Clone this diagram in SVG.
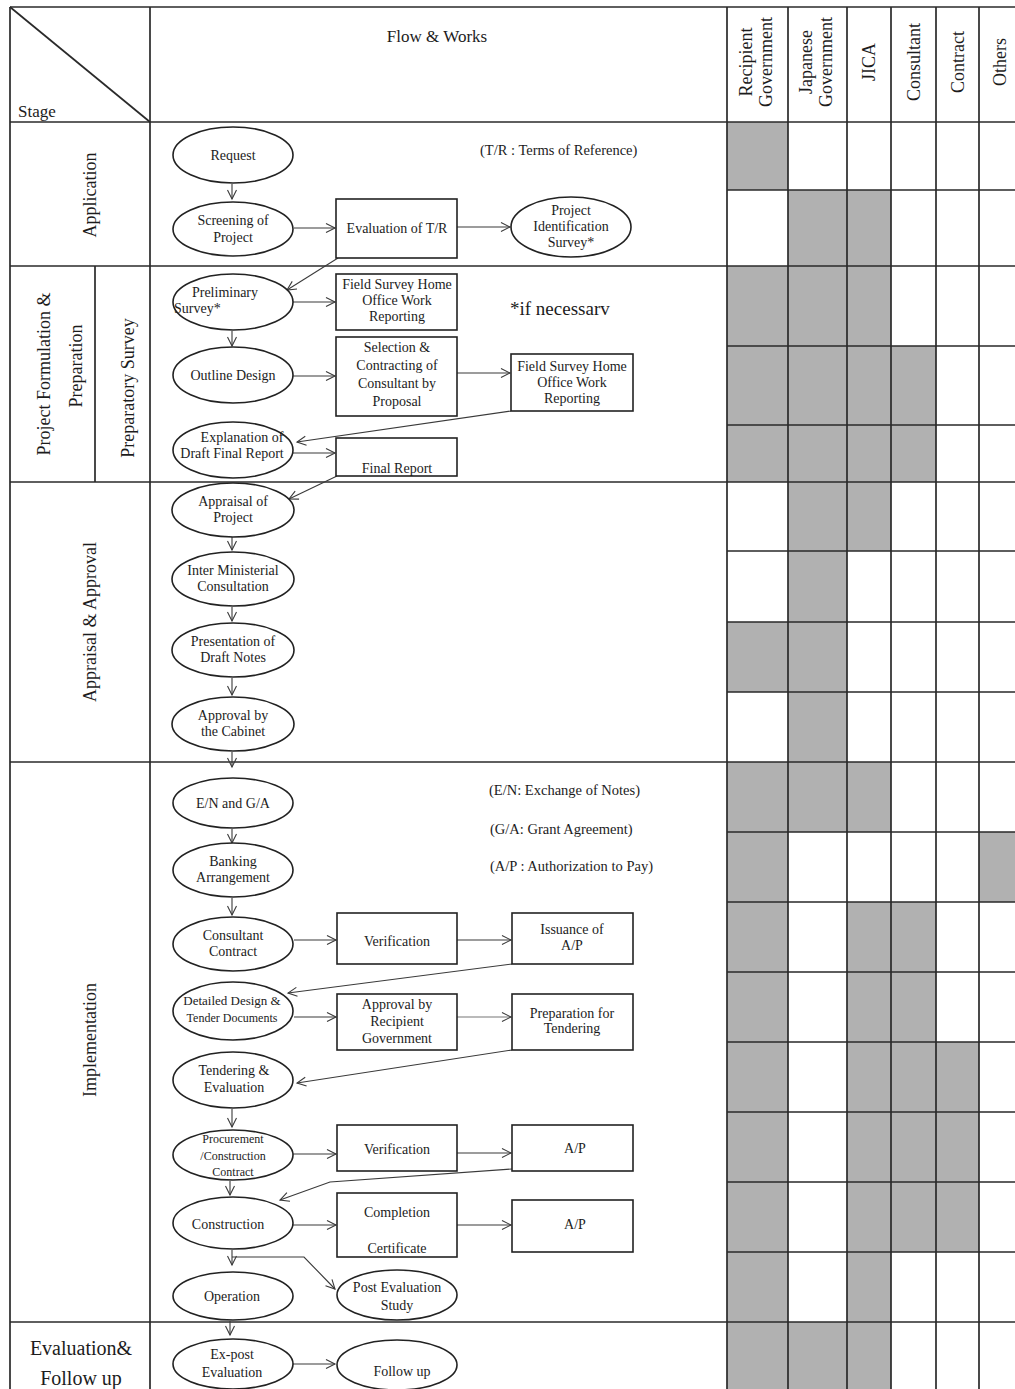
<svg xmlns="http://www.w3.org/2000/svg" width="1015" height="1389" viewBox="0 0 1015 1389">
<defs>
<style>
.bg{fill:#ffffff}
.shade{fill:#b1b1b1}
.tbl{stroke:#2a2a2a;stroke-width:1.7;fill:none}
.node{fill:#ffffff;stroke:#222;stroke-width:1.6}
.conn{stroke:#3a3a3a;stroke-width:1.1;fill:none;marker-end:url(#arr)}
.light{stroke:#777}
text{font-family:"Liberation Serif","Times New Roman",serif;fill:#1c1c1c}
.t{font-size:14px;text-anchor:middle}
.s{font-size:12px;text-anchor:middle}
.hd{font-size:18px;text-anchor:middle}
.st{font-size:18px;text-anchor:middle}
.note{font-size:14.5px}
</style>
<marker id="arr" markerUnits="userSpaceOnUse" markerWidth="12" markerHeight="12" refX="10" refY="5" orient="auto">
<path d="M1,0.5 L10,5 L1,9.5" fill="none" stroke="#3a3a3a" stroke-width="1.1"/>
</marker>
</defs>
<rect class="bg" x="0" y="0" width="1015" height="1389"/>

<g id="matrix-shading">
<rect class="shade" x="727" y="122" width="61" height="68"/>
<rect class="shade" x="788" y="190" width="103" height="76"/>
<rect class="shade" x="727" y="266" width="164" height="80"/>
<rect class="shade" x="727" y="346" width="209" height="136"/>
<rect class="shade" x="788" y="482" width="103" height="69"/>
<rect class="shade" x="788" y="551" width="59" height="71"/>
<rect class="shade" x="727" y="622" width="120" height="70"/>
<rect class="shade" x="788" y="692" width="59" height="70"/>
<rect class="shade" x="727" y="762" width="164" height="70"/>
<rect class="shade" x="727" y="832" width="61" height="70"/>
<rect class="shade" x="979" y="832" width="36" height="70"/>
<rect class="shade" x="727" y="902" width="61" height="420"/>
<rect class="shade" x="847" y="902" width="89" height="140"/>
<rect class="shade" x="847" y="1042" width="132" height="210"/>
<rect class="shade" x="847" y="1252" width="44" height="70"/>
<rect class="shade" x="727" y="1322" width="164" height="67"/>
</g>

<g id="table-grid">
<line class="tbl" x1="10" y1="7" x2="1015" y2="7"/>
<line class="tbl" x1="10" y1="7" x2="10" y2="1389"/>
<line class="tbl" x1="150" y1="7" x2="150" y2="1389"/>
<line class="tbl" x1="727" y1="7" x2="727" y2="1389"/>
<line class="tbl" x1="788" y1="7" x2="788" y2="1389"/>
<line class="tbl" x1="847" y1="7" x2="847" y2="1389"/>
<line class="tbl" x1="891" y1="7" x2="891" y2="1389"/>
<line class="tbl" x1="936" y1="7" x2="936" y2="1389"/>
<line class="tbl" x1="979" y1="7" x2="979" y2="1389"/>
<line class="tbl" x1="95" y1="266" x2="95" y2="482"/>
<line class="tbl" x1="10" y1="7" x2="150" y2="122"/>
<line class="tbl" x1="10" y1="122" x2="1015" y2="122"/>
<line class="tbl" x1="10" y1="266" x2="1015" y2="266"/>
<line class="tbl" x1="10" y1="482" x2="1015" y2="482"/>
<line class="tbl" x1="10" y1="762" x2="1015" y2="762"/>
<line class="tbl" x1="10" y1="1322" x2="1015" y2="1322"/>
<path class="tbl" d="M727,190H1015M727,346H1015M727,425H1015M727,551H1015M727,622H1015M727,692H1015M727,832H1015M727,902H1015M727,972H1015M727,1042H1015M727,1112H1015M727,1182H1015M727,1252H1015"/>
</g>

<g id="headers">
<text x="437" y="42" style="font-size:17px;text-anchor:middle">Flow &amp; Works</text>
<text x="18" y="117" style="font-size:17px">Stage</text>
<text class="hd" transform="translate(752,62) rotate(-90)">Recipient</text>
<text class="hd" transform="translate(772,62) rotate(-90)">Government</text>
<text class="hd" transform="translate(812,62) rotate(-90)">Japanese</text>
<text class="hd" transform="translate(832,62) rotate(-90)">Government</text>
<text class="hd" transform="translate(875,62) rotate(-90)">JICA</text>
<text class="hd" transform="translate(920,62) rotate(-90)">Consultant</text>
<text class="hd" transform="translate(964,62) rotate(-90)">Contract</text>
<text class="hd" transform="translate(1006,62) rotate(-90)">Others</text>
</g>

<g id="stages">
<text class="st" transform="translate(96,195) rotate(-90)">Application</text>
<text class="st" transform="translate(50,374) rotate(-90)">Project Formulation &amp;</text>
<text class="st" transform="translate(82,366) rotate(-90)">Preparation</text>
<text class="st" transform="translate(134,388) rotate(-90)">Preparatory Survey</text>
<text class="st" transform="translate(96,622) rotate(-90)">Appraisal &amp; Approval</text>
<text class="st" transform="translate(96,1040) rotate(-90)">Implementation</text>
<text x="81" y="1355" style="font-size:20px;text-anchor:middle">Evaluation&amp;</text>
<text x="81" y="1385" style="font-size:20px;text-anchor:middle">Follow up</text>
</g>

<g id="notes">
<text class="note" x="480" y="155">(T/R : Terms of Reference)</text>
<text x="510" y="315" style="font-size:19px">*if necessarv</text>
<text class="note" x="489" y="795">(E/N: Exchange of Notes)</text>
<text class="note" x="490" y="834">(G/A: Grant Agreement)</text>
<text class="note" x="490" y="871">(A/P : Authorization to Pay)</text>
</g>

<g id="connectors">
<line class="conn" x1="232" y1="184" x2="232" y2="199"/>
<line class="conn" x1="294" y1="228" x2="335" y2="228"/>
<line class="conn" x1="457" y1="227" x2="510" y2="227"/>
<line class="conn" x1="338" y1="258" x2="287" y2="290"/>
<line class="conn" x1="293" y1="302" x2="335" y2="302"/>
<line class="conn" x1="232" y1="331" x2="232" y2="346"/>
<line class="conn" x1="293" y1="376" x2="335" y2="376"/>
<line class="conn" x1="457" y1="373" x2="510" y2="373"/>
<line class="conn" x1="511" y1="411" x2="297" y2="442"/>
<line class="conn" x1="292" y1="453" x2="335" y2="453"/>
<line class="conn" x1="337" y1="476" x2="289" y2="499"/>
<line class="conn" x1="232" y1="537" x2="232" y2="550"/>
<line class="conn" x1="232" y1="607" x2="232" y2="621"/>
<line class="conn" x1="232" y1="678" x2="232" y2="695"/>
<line class="conn" x1="232" y1="752" x2="232" y2="767"/>
<line class="conn" x1="232" y1="829" x2="232" y2="843"/>
<line class="conn" x1="232" y1="898" x2="232" y2="915"/>
<line class="conn" x1="294" y1="940" x2="336" y2="940"/>
<line class="conn" x1="457" y1="940" x2="511" y2="940"/>
<line class="conn" x1="512" y1="964" x2="288" y2="993"/>
<line class="conn" x1="294" y1="1017" x2="336" y2="1017"/>
<line class="conn light" x1="457" y1="1017" x2="511" y2="1017"/>
<line class="conn" x1="512" y1="1050" x2="297" y2="1083"/>
<line class="conn" x1="232" y1="1109" x2="232" y2="1127"/>
<line class="conn" x1="293" y1="1154" x2="336" y2="1154"/>
<line class="conn" x1="457" y1="1153" x2="511" y2="1153"/>
<polyline class="conn" points="512,1169 330,1182 280,1200"/>
<line class="conn" x1="230" y1="1181" x2="230" y2="1195"/>
<line class="conn" x1="293" y1="1225" x2="336" y2="1225"/>
<line class="conn" x1="457" y1="1225" x2="511" y2="1225"/>
<line class="conn" x1="232" y1="1250" x2="232" y2="1265"/>
<polyline class="conn" points="232,1257 304,1257 335,1289"/>
<line class="conn" x1="230" y1="1321" x2="230" y2="1335"/>
<line class="conn" x1="293" y1="1364" x2="335" y2="1364"/>
</g>

<g id="n-request"><ellipse class="node" cx="233" cy="155" rx="60" ry="28"/><text class="t" x="233" y="160">Request</text></g>
<g id="n-screening"><ellipse class="node" cx="233" cy="229" rx="60" ry="27"/><text class="t" x="233" y="225">Screening of</text><text class="t" x="233" y="242">Project</text></g>
<g id="n-evaluation-tr"><rect class="node" x="336" y="199" width="121" height="59"/><text class="t" x="397" y="233">Evaluation of T/R</text></g>
<g id="n-project-identification"><ellipse class="node" cx="571" cy="227" rx="60" ry="30"/><text class="t" x="571" y="215">Project</text><text class="t" x="571" y="231">Identification</text><text class="t" x="571" y="247">Survey*</text></g>

<g id="n-preliminary"><ellipse class="node" cx="233" cy="302" rx="60" ry="28"/><text class="t" x="225" y="297">Preliminary</text><text x="174" y="313" style="font-size:14px">Survey*</text></g>
<g id="n-field-survey-1"><rect class="node" x="336" y="274" width="121" height="56"/><text class="t" x="397" y="289">Field Survey Home</text><text class="t" x="397" y="305">Office Work</text><text class="t" x="397" y="321">Reporting</text></g>
<g id="n-outline-design"><ellipse class="node" cx="233" cy="375" rx="60" ry="28"/><text class="t" x="233" y="380">Outline Design</text></g>
<g id="n-selection"><rect class="node" x="336" y="337" width="121" height="79"/><text class="t" x="397" y="352">Selection &amp;</text><text class="t" x="397" y="370">Contracting of</text><text class="t" x="397" y="388">Consultant by</text><text class="t" x="397" y="406">Proposal</text></g>
<g id="n-field-survey-2"><rect class="node" x="511" y="354" width="122" height="57"/><text class="t" x="572" y="371">Field Survey Home</text><text class="t" x="572" y="387">Office Work</text><text class="t" x="572" y="403">Reporting</text></g>
<g id="n-explanation"><ellipse class="node" cx="233" cy="450" rx="60" ry="28"/><text class="t" x="242" y="442">Explanation of</text><text class="t" x="232" y="458">Draft Final Report</text></g>
<g id="n-final-report"><rect class="node" x="336" y="438" width="121" height="38"/><text class="t" x="397" y="473">Final Report</text></g>

<g id="n-appraisal"><ellipse class="node" cx="233" cy="510" rx="61" ry="27"/><text class="t" x="233" y="506">Appraisal of</text><text class="t" x="233" y="522">Project</text></g>
<g id="n-inter-ministerial"><ellipse class="node" cx="233" cy="579" rx="61" ry="27"/><text class="t" x="233" y="575">Inter Ministerial</text><text class="t" x="233" y="591">Consultation</text></g>
<g id="n-presentation"><ellipse class="node" cx="233" cy="650" rx="61" ry="27"/><text class="t" x="233" y="646">Presentation of</text><text class="t" x="233" y="662">Draft Notes</text></g>
<g id="n-cabinet"><ellipse class="node" cx="233" cy="724" rx="61" ry="27"/><text class="t" x="233" y="720">Approval by</text><text class="t" x="233" y="736">the Cabinet</text></g>

<g id="n-en-ga"><ellipse class="node" cx="233" cy="803" rx="60" ry="25"/><text class="t" x="233" y="808">E/N and G/A</text></g>
<g id="n-banking"><ellipse class="node" cx="233" cy="870" rx="60" ry="27"/><text class="t" x="233" y="866">Banking</text><text class="t" x="233" y="882">Arrangement</text></g>
<g id="n-consultant-contract"><ellipse class="node" cx="233" cy="944" rx="60" ry="27"/><text class="t" x="233" y="940">Consultant</text><text class="t" x="233" y="956">Contract</text></g>
<g id="n-verification-1"><rect class="node" x="337" y="913" width="120" height="51"/><text class="t" x="397" y="946">Verification</text></g>
<g id="n-issuance-ap"><rect class="node" x="512" y="913" width="121" height="51"/><text class="t" x="572" y="934">Issuance of</text><text class="t" x="572" y="950">A/P</text></g>
<g id="n-detailed-design"><ellipse class="node" cx="233" cy="1011" rx="60" ry="29"/><text x="232" y="1005" style="font-size:13px;text-anchor:middle">Detailed Design &amp;</text><text x="232" y="1022" style="font-size:12px;text-anchor:middle">Tender Documents</text></g>
<g id="n-approval-recipient"><rect class="node" x="337" y="994" width="120" height="56"/><text class="t" x="397" y="1009">Approval by</text><text class="t" x="397" y="1026">Recipient</text><text class="t" x="397" y="1043">Government</text></g>
<g id="n-preparation-tendering"><rect class="node" x="512" y="994" width="121" height="56"/><text class="t" x="572" y="1018">Preparation for</text><text class="t" x="572" y="1033">Tendering</text></g>
<g id="n-tendering"><ellipse class="node" cx="233" cy="1080" rx="60" ry="28"/><text class="t" x="234" y="1075">Tendering &amp;</text><text class="t" x="234" y="1092">Evaluation</text></g>
<g id="n-procurement"><ellipse class="node" cx="233" cy="1155" rx="60" ry="25"/><text class="s" x="233" y="1143">Procurement</text><text class="s" x="233" y="1160">/Construction</text><text class="s" x="233" y="1176">Contract</text></g>
<g id="n-verification-2"><rect class="node" x="337" y="1125" width="120" height="46"/><text class="t" x="397" y="1154">Verification</text></g>
<g id="n-ap-1"><rect class="node" x="512" y="1125" width="121" height="46"/><text class="t" x="575" y="1153">A/P</text></g>
<g id="n-construction"><ellipse class="node" cx="233" cy="1223" rx="60" ry="26"/><text class="t" x="228" y="1229">Construction</text></g>
<g id="n-completion"><rect class="node" x="337" y="1193" width="120" height="64"/><text class="t" x="397" y="1217">Completion</text><text class="t" x="397" y="1253">Certificate</text></g>
<g id="n-ap-2"><rect class="node" x="512" y="1200" width="121" height="52"/><text class="t" x="575" y="1229">A/P</text></g>
<g id="n-operation"><ellipse class="node" cx="233" cy="1296" rx="60" ry="24"/><text class="t" x="232" y="1301">Operation</text></g>
<g id="n-post-evaluation"><ellipse class="node" cx="397" cy="1295" rx="60" ry="25"/><text class="t" x="397" y="1292">Post Evaluation</text><text class="t" x="397" y="1310">Study</text></g>
<g id="n-ex-post"><ellipse class="node" cx="233" cy="1364" rx="60" ry="25"/><text class="t" x="232" y="1359">Ex-post</text><text class="t" x="232" y="1377">Evaluation</text></g>
<g id="n-follow-up"><ellipse class="node" cx="397" cy="1365" rx="60" ry="25"/><text class="t" x="402" y="1376">Follow up</text></g>
</svg>
